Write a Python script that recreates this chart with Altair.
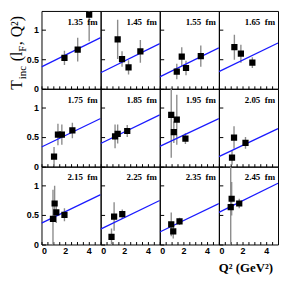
import altair as alt
import pandas as pd

panel_labels = ["1.35", "1.45", "1.55", "1.65", "1.75", "1.85",
                "1.95", "2.05", "2.15", "2.25", "2.35", "2.45"]

# data points: panel index, Q^2, T, error
pt_panel = [0, 0, 0,
            1, 1, 1, 1,
            2, 2, 2, 2,
            3, 3, 3,
            4, 4, 4, 4,
            5, 5, 5,
            6, 6, 6, 6,
            7, 7, 7,
            8, 8, 8, 8,
            9, 9, 9,
            10, 10, 10,
            11, 11, 11]
pt_q2 = [1.94, 3.06, 4.03,
         1.44, 1.81, 2.36, 3.36,
         1.44, 1.86, 2.22, 3.47,
         1.31, 1.86, 2.83,
         1.06, 1.39, 1.72, 2.61,
         1.22, 1.44, 2.25,
         0.97, 1.44, 1.19, 2.17,
         1.11, 1.28, 2.25,
         0.97, 1.11, 1.25, 1.94,
         0.92, 1.14, 1.83,
         0.97, 1.14, 1.67,
         1.00, 1.08, 1.72]
pt_t = [0.52, 0.66, 1.25,
        0.83, 0.50, 0.36, 0.63,
        0.29, 0.54, 0.35, 0.55,
        0.70, 0.59, 0.44,
        0.17, 0.54, 0.54, 0.61,
        0.51, 0.55, 0.60,
        0.87, 0.79, 0.58, 0.47,
        0.15, 0.49, 0.40,
        0.43, 0.69, 0.54, 0.50,
        0.13, 0.47, 0.51,
        0.34, 0.22, 0.39,
        0.63, 0.77, 0.69]
pt_err = [0.12, 0.20, 0.45,
          0.33, 0.13, 0.12, 0.19,
          0.13, 0.16, 0.12, 0.18,
          0.21, 0.15, 0.09,
          0.16, 0.18, 0.17, 0.13,
          0.20, 0.16, 0.10,
          0.72, 0.42, 0.18, 0.09,
          0.12, 0.19, 0.10,
          0.49, 0.30, 0.18, 0.11,
          0.14, 0.24, 0.08,
          0.20, 0.12, 0.06,
          0.80, 0.28, 0.08]

# fitted lines: value at Q^2 = 0 and Q^2 = 5
line_x = [0, 5]
line_start = [0.37, 0.27, 0.20, 0.29, 0.33, 0.39, 0.34, 0.17, 0.36, 0.26, 0.21, 0.54]
line_end = [0.86, 0.76, 0.69, 0.77, 0.81, 0.87, 0.81, 0.64, 0.84, 0.74, 0.69, 1.03]

x_ticks = [0, 0.5, 1, 1.5, 2, 2.5, 3, 3.5, 4, 4.5]
y_ticks = [0, 0.5, 1]

W, H = 60, 79

pts_all = pd.DataFrame({"p": pt_panel, "x": pt_q2, "y": pt_t, "e": pt_err})
pts_all["lo"] = pts_all["y"] - pts_all["e"]
pts_all["hi"] = pts_all["y"] + pts_all["e"]

serif = "Liberation Serif"
sans = "Liberation Sans"

panels = []
for i, lab in enumerate(panel_labels):
    row, col = divmod(i, 4)
    df = pts_all[pts_all["p"] == i].reset_index(drop=True)
    ldf = pd.DataFrame({"x": line_x, "y": [line_start[i], line_end[i]]})
    xs = alt.Scale(domain=[0, 5], nice=False, zero=False)
    ys = alt.Scale(domain=[0, 1.31], nice=False)
    xaxis = alt.Axis(values=x_ticks, offset=-3, tickSize=3, domain=False, grid=False,
                     labels=(row == 2), title=None, labelPadding=2, format="~g",
                     labelExpr="datum.value % 2 == 0 ? datum.label : ''")
    yaxis = alt.Axis(values=y_ticks, offset=-4, tickSize=4, domain=False, grid=False,
                     labels=(col == 0), title=None, labelPadding=3, format="~g")
    X = lambda f: alt.X(f, scale=xs, axis=xaxis)
    bars = alt.Chart(df).mark_rule(color="#8c8c8c", strokeWidth=1.4, clip=True).encode(
        x=X("x:Q"), y=alt.Y("lo:Q", scale=ys, axis=yaxis), y2="hi:Q")
    line = alt.Chart(ldf).mark_line(color="#1a1aff", strokeWidth=1.3, clip=True).encode(
        x=X("x:Q"), y=alt.Y("y:Q", scale=ys, axis=yaxis))
    pts = alt.Chart(df).mark_square(color="black", size=40, opacity=1, clip=True).encode(
        x=X("x:Q"), y=alt.Y("y:Q", scale=ys, axis=yaxis))
    txt = alt.Chart(pd.DataFrame({"t": [lab + "\u00a0\u00a0fm"]})).mark_text(
        align="right", baseline="alphabetic", font=serif, fontSize=9, fontWeight="bold",
        color="black").encode(x=alt.value(W - 3), y=alt.value(14), text="t:N")
    layers = [bars, line, pts, txt]
    if i == 0:
        pieces = [("T", 16, -20, 80), ("inc", 11, -16, 69.3), ("(l", 16, -20, 51),
                  ("F", 11, -16, 41.5), (", Q\u00b2)", 16, -20, 34.8)]
        for t, fs, px, py in pieces:
            layers.append(alt.Chart(pd.DataFrame({"t": [t]})).mark_text(
                align="left", baseline="alphabetic", angle=270, font=serif, fontSize=fs,
                color="black").encode(x=alt.value(px), y=alt.value(py), text="t:N"))
    if i == 11:
        layers.append(alt.Chart(pd.DataFrame({"t": ["Q\u00b2 (GeV\u00b2)"]})).mark_text(
            align="right", baseline="alphabetic", font=serif, fontSize=13, fontWeight="bold",
            color="black").encode(x=alt.value(W - 5), y=alt.value(H + 28), text="t:N"))
    panels.append(alt.layer(*layers).properties(width=W, height=H))

chart = alt.concat(*panels, columns=4, spacing=0, bounds="flush").properties(
    padding=0
).configure_view(stroke="black", strokeWidth=1).configure_axis(
    labelFont=sans, labelFontWeight="bold", labelFontSize=9, labelColor="black",
    tickColor="black", tickWidth=1
)

chart.save("out.html", embed_options={"renderer": "svg", "actions": False})
